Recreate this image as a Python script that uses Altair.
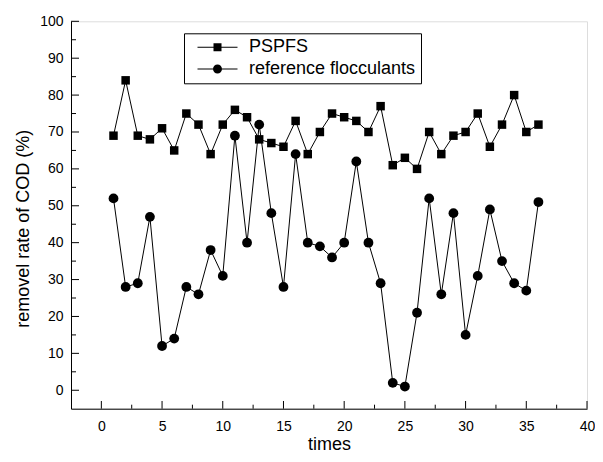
import altair as alt
import pandas as pd

times = list(range(1, 37))
pspfs = [69, 84, 69, 68, 71, 65, 75, 72, 64, 72, 76, 74, 68, 67, 66, 73, 64, 70,
         75, 74, 73, 70, 77, 61, 63, 60, 70, 64, 69, 70, 75, 66, 72, 80, 70, 72]
reference = [52, 28, 29, 47, 12, 14, 28, 26, 38, 31, 69, 40, 72, 48, 28, 64, 40, 39,
             36, 40, 62, 40, 29, 2, 1, 21, 52, 26, 48, 15, 31, 49, 35, 29, 27, 51]
series_names = ["PSPFS", "reference flocculants"]

x_labels = [0, 5, 10, 15, 20, 25, 30, 35, 40]
x_minor = [2.5, 7.5, 12.5, 17.5, 22.5, 27.5, 32.5, 37.5]
y_labels = [0, 10, 20, 30, 40, 50, 60, 70, 80, 90, 100]
y_minor = [5, 15, 25, 35, 45, 55, 65, 75, 85, 95]

X0, X1 = -2.5, 40
Y0, Y1 = -5, 100
W = 516
H = 387.4
TOP = 13.3
FONT = "Liberation Sans"
px_x = W / (X1 - X0)
px_y = H / (Y1 - Y0)

rows = []
for t, v in zip(times, pspfs):
    rows.append({"times": t, "value": v, "series": series_names[0]})
for t, v in zip(times, reference):
    rows.append({"times": t, "value": v, "series": series_names[1]})
df = pd.DataFrame(rows)

# inward tick marks (major and minor), lengths converted from pixels to data units
xt = pd.DataFrame(
    [{"times": p, "value": Y0, "value2": Y0 + 7.7 / px_y} for p in x_labels]
    + [{"times": p, "value": Y0, "value2": Y0 + 4.0 / px_y} for p in x_minor]
)
yt = pd.DataFrame(
    [{"value": p, "times": X0, "times2": X0 + 8.0 / px_x} for p in y_labels]
    + [{"value": p, "times": X0, "times2": X0 + 5.0 / px_x} for p in y_minor]
)

xs = alt.Scale(domain=[X0, X1], nice=False, zero=False)
ys = alt.Scale(domain=[Y0, Y1], nice=False, zero=False)

x_main = alt.Axis(values=x_labels, ticks=False, tickSize=0, grid=False, domain=True,
                  domainColor="black", domainWidth=1, labelPadding=11, labelFontSize=14,
                  labelFont=FONT, labelColor="black", labelFlush=False, labelOverlap=False,
                  title="times", titleFontSize=18, titleFont=FONT, titleFontWeight="normal",
                  titleColor="black", titleBaseline="alphabetic", titleY=449.3 - 8 - TOP - H)
y_main = alt.Axis(values=y_labels, ticks=False, tickSize=0, grid=False, domain=True,
                  domainColor="black", domainWidth=1, labelPadding=8, labelFontSize=14,
                  labelFont=FONT, labelColor="black", labelFlush=False, labelOverlap=False,
                  title="removel rate of COD (%)", titleFontSize=18, titleFont=FONT,
                  titleFontWeight="normal", titleColor="black",
                  titleBaseline="alphabetic", titleX=-42.7, titleY=207)

X = lambda: alt.X("times:Q", scale=xs, axis=x_main, title="times")
Y = lambda: alt.Y("value:Q", scale=ys, axis=y_main, title="removel rate of COD (%)")

base = alt.Chart(df)

lines = base.mark_line(color="black", strokeWidth=1).encode(
    x=X(), y=Y(), detail="series:N",
)

points = base.mark_point(filled=True, color="black", opacity=1).encode(
    x=X(), y=Y(),
    shape=alt.Shape("series:N", scale=alt.Scale(domain=series_names, range=["square", "circle"]), legend=None),
    size=alt.Size("series:N", scale=alt.Scale(domain=series_names, range=[72, 96]), legend=None),
)

sq_path = "M-4,-0.1H4V0.1H-4Z M-0.8,-0.8H0.8V0.8H-0.8Z"
ci_path = "M-4,-0.1H4V0.1H-4Z M0.9,0A0.9,0.9,0,1,1,-0.9,0A0.9,0.9,0,1,1,0.9,0Z"

legend_layer = base.mark_point(filled=True, color="black", opacity=0).encode(
    x=X(), y=Y(),
    shape=alt.Shape("series:N", scale=alt.Scale(domain=series_names, range=[sq_path, ci_path]),
                    legend=alt.Legend(orient="none", legendX=113, legendY=12, title=None,
                                      symbolSize=100, symbolOffset=19.5, labelOffset=22.5,
                                      padding=5, strokeColor="black", fillColor="white",
                                      labelFontSize=18, labelFont=FONT, labelColor="black",
                                      rowPadding=3.7, symbolFillColor="black",
                                      symbolStrokeWidth=0, symbolOpacity=1, labelLimit=0)),
)

xticks_layer = alt.Chart(xt).mark_rule(color="black", strokeWidth=1).encode(
    x=X(), y=Y(), y2="value2:Q",
)
yticks_layer = alt.Chart(yt).mark_rule(color="black", strokeWidth=1).encode(
    y=Y(), x=X(), x2="times2:Q",
)

chart = alt.layer(lines, xticks_layer, yticks_layer, points, legend_layer).resolve_scale(
    shape="independent", size="independent"
).properties(
    width=W, height=H,
    autosize=alt.AutoSizeParams(type="none"),
    padding={"left": 63, "top": TOP, "right": 587 - 63 - W, "bottom": 446 - TOP - H},
).configure_view(stroke=None).configure(font=FONT)

chart.save("out.html", embed_options={"renderer": "svg", "actions": False})
